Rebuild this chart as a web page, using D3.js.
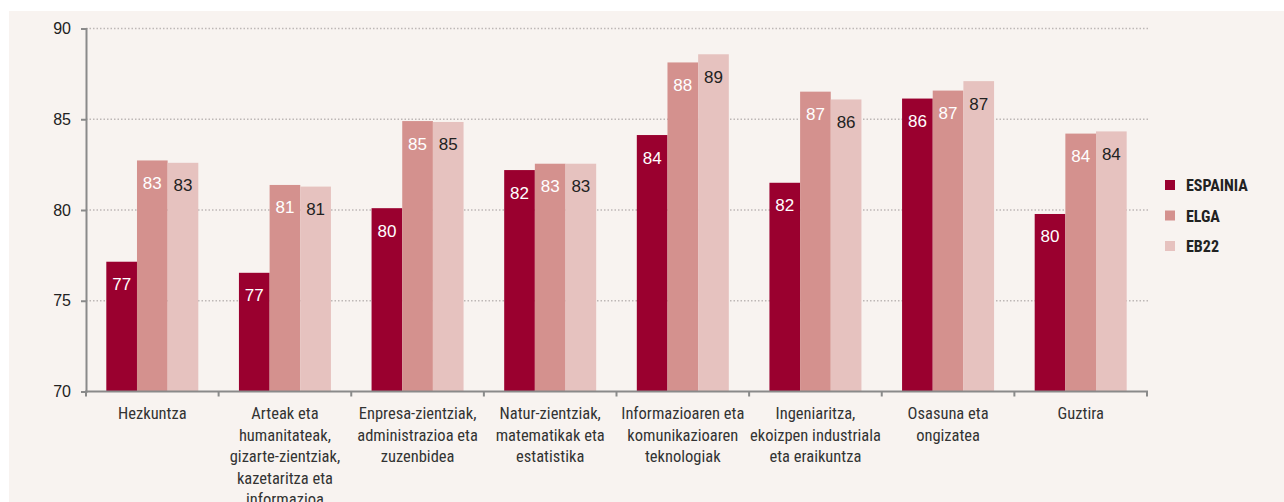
<!DOCTYPE html>
<html>
<head>
<meta charset="utf-8">
<script src="https://cdn.jsdelivr.net/npm/d3@7"></script>
<style>
  html, body { margin: 0; padding: 0; background: #fff; }
  svg { display: block; }
</style>
</head>
<body>
<div id="chart"></div>
<script>
const categories = [
  "Hezkuntza",
  "Arteak eta\nhumanitateak,\ngizarte-zientziak,\nkazetaritza eta\ninformazioa",
  "Enpresa-zientziak,\nadministrazioa eta\nzuzenbidea",
  "Natur-zientziak,\nmatematikak eta\nestatistika",
  "Informazioaren eta\nkomunikazioaren\nteknologiak",
  "Ingeniaritza,\nekoizpen industriala\neta eraikuntza",
  "Osasuna eta\nongizatea",
  "Guztira"
];
const seriesNames = ["ESPAINIA", "ELGA", "EB22"];
const espainia = [77.15, 76.54, 80.1, 82.2, 84.13, 81.5, 86.14, 79.78];
const elga     = [82.73, 81.38, 84.9, 82.55, 88.13, 86.52, 86.58, 84.21];
const eb22     = [82.6, 81.29, 84.85, 82.55, 88.58, 86.09, 87.1, 84.33];
const yTicks = [70, 75, 80, 85, 90];

const colors = { ESPAINIA: "#9a002f", ELGA: "#d4918e", EB22: "#e6c2bf" };
const labelColors = { ESPAINIA: "#fff", ELGA: "#fff", EB22: "#222" };

const W = 1284, H = 502;
const svg = d3.select("#chart").append("svg")
  .attr("width", W).attr("height", H);

// fondo del panel
svg.append("rect")
  .attr("x", 9).attr("y", 11)
  .attr("width", W - 9).attr("height", H - 11)
  .attr("fill", "#f8f3f0");

const x0 = d3.scaleBand().domain(categories).range([86, 1147]).padding(0);
const groupW = 92;
const x1 = d3.scaleBand().domain(seriesNames).range([0, groupW]).padding(0);
const y = d3.scaleLinear().domain([70, 90]).range([391.5, 28.5]);

// rejilla
svg.append("g")
  .selectAll("line")
  .data(yTicks.filter(d => d > 70))
  .join("line")
  .attr("x1", 86).attr("x2", 1148)
  .attr("y1", d => y(d)).attr("y2", d => y(d))
  .attr("stroke", "#bdb8b6")
  .attr("stroke-width", 1.3)
  .attr("stroke-dasharray", "1.5,2");

// eje Y
const yAxis = svg.append("g")
  .attr("transform", "translate(86,0)")
  .call(d3.axisLeft(y).tickValues(yTicks).tickSize(5).tickPadding(10).tickFormat(d3.format("d")));
yAxis.select(".domain").attr("stroke", "#8a8a8a").attr("stroke-width", 2);
yAxis.selectAll(".tick line").attr("stroke", "#8a8a8a").attr("stroke-width", 2);
yAxis.selectAll(".tick text")
  .attr("fill", "#222")
  .style("font-family", "'Liberation Sans', Arial, sans-serif")
  .style("font-size", "16px");

// barras
const rows = categories.map((c, i) => ({
  cat: c,
  vals: [
    { s: "ESPAINIA", v: espainia[i] },
    { s: "ELGA", v: elga[i] },
    { s: "EB22", v: eb22[i] }
  ]
}));

const groups = svg.append("g")
  .selectAll("g")
  .data(rows)
  .join("g")
  .attr("transform", d => `translate(${x0(d.cat) + (x0.bandwidth() - groupW) / 2},0)`);

groups.selectAll("rect")
  .data(d => d.vals)
  .join("rect")
  .attr("x", d => x1(d.s))
  .attr("y", d => y(d.v))
  .attr("width", x1.bandwidth())
  .attr("height", d => y(70) - y(d.v))
  .attr("fill", d => colors[d.s]);

groups.selectAll("text")
  .data(d => d.vals)
  .join("text")
  .attr("x", d => x1(d.s) + x1.bandwidth() / 2)
  .attr("y", d => y(d.v) + 28.5)
  .attr("text-anchor", "middle")
  .attr("fill", d => labelColors[d.s])
  .style("font-family", "'Liberation Sans', Arial, sans-serif")
  .style("font-size", "17px")
  .text(d => Math.round(d.v));

// eje X
svg.append("line")
  .attr("x1", 85).attr("x2", 1148)
  .attr("y1", y(70)).attr("y2", y(70))
  .attr("stroke", "#8a8a8a").attr("stroke-width", 2);
svg.append("g")
  .selectAll("line")
  .data(categories.map(c => x0(c)).concat([x0.range()[1]]))
  .join("line")
  .attr("x1", d => d).attr("x2", d => d)
  .attr("y1", y(70)).attr("y2", y(70) + 5)
  .attr("stroke", "#8a8a8a").attr("stroke-width", 2);

// etiquetas de categoría
const catLabels = svg.append("g")
  .selectAll("text")
  .data(categories)
  .join("text")
  .attr("x", d => x0(d) + x0.bandwidth() / 2)
  .attr("y", 419)
  .attr("text-anchor", "middle")
  .attr("fill", "#333")
  .style("font-family", "'Liberation Sans Narrow', 'Roboto Condensed', 'Arial Narrow', sans-serif")
  .style("font-size", "16.5px");
catLabels.each(function(d) {
  const t = d3.select(this);
  d.split("\n").forEach((line, i) => {
    t.append("tspan")
      .attr("x", x0(d) + x0.bandwidth() / 2)
      .attr("dy", i === 0 ? 0 : 21.5)
      .text(line);
  });
});

// leyenda
const legend = svg.append("g")
  .selectAll("g")
  .data(seriesNames)
  .join("g")
  .attr("transform", (d, i) => `translate(1165,${180 + i * 30.5})`);
legend.append("rect")
  .attr("width", 10).attr("height", 10)
  .attr("fill", d => colors[d]);
legend.append("text")
  .attr("x", 21).attr("y", 11)
  .attr("fill", "#222")
  .style("font-family", "'Liberation Sans Narrow', 'Roboto Condensed', 'Arial Narrow', sans-serif")
  .style("font-weight", "bold")
  .style("font-size", "16px")
  .text(d => d);
</script>
</body>
</html>
